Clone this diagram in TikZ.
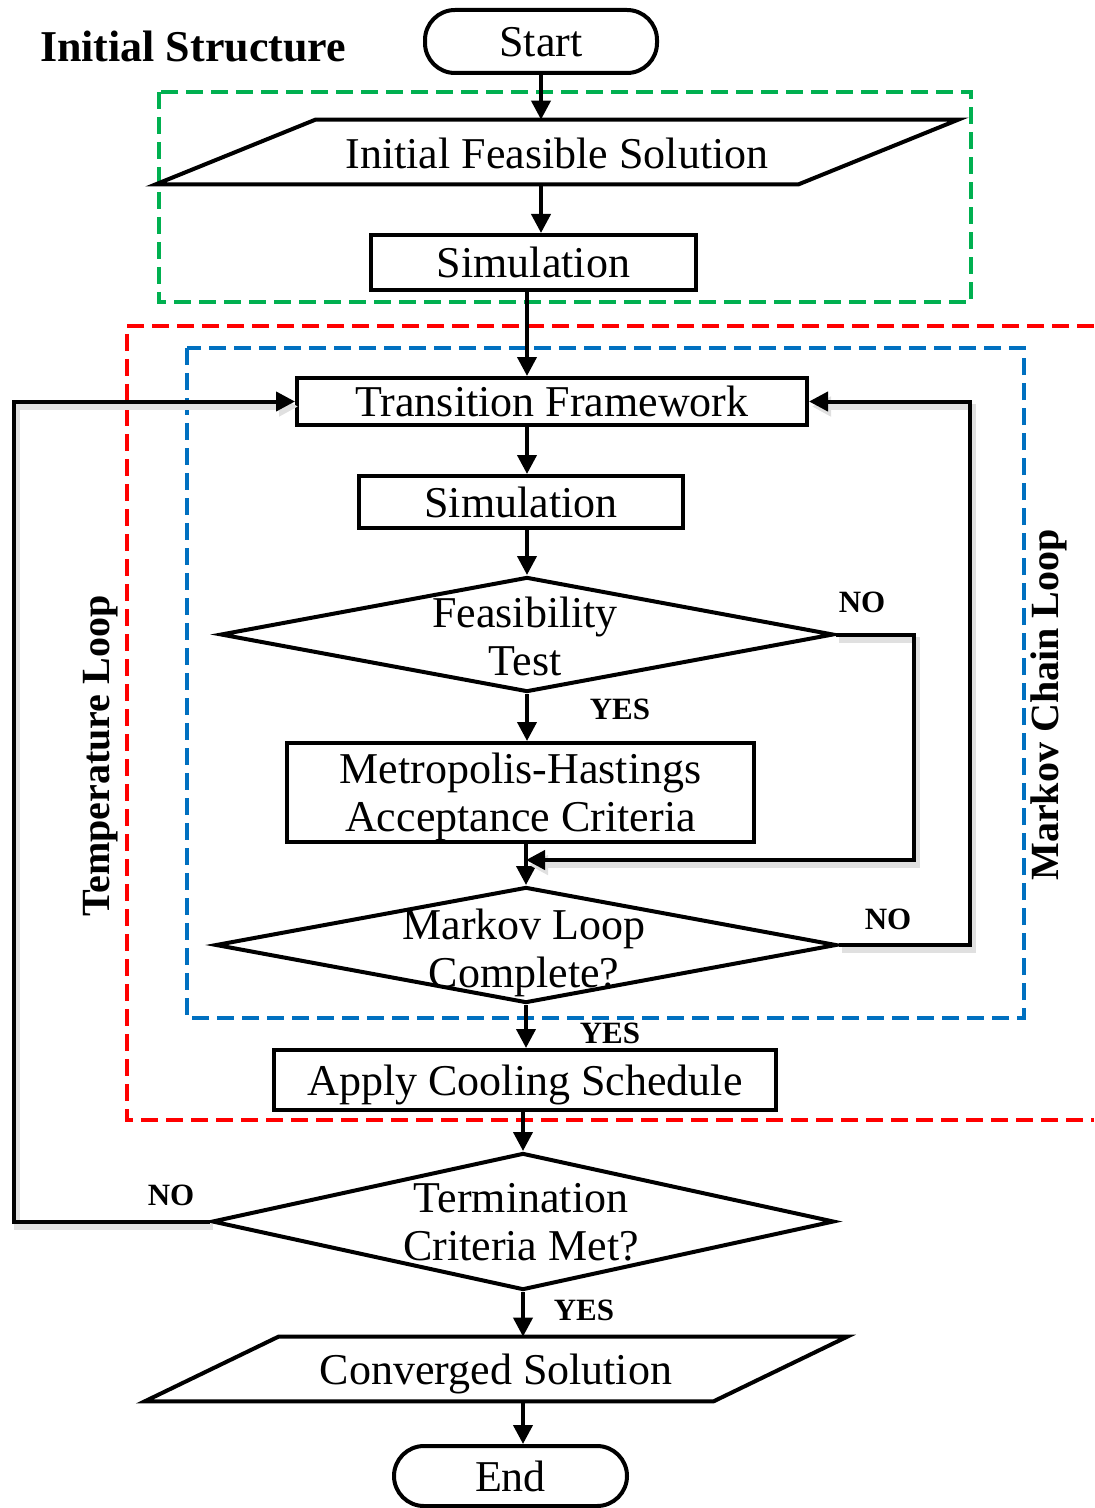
\documentclass[tikz,border=0pt]{standalone}
\usepackage{fontspec}
\setmainfont{Liberation Serif}
\usetikzlibrary{arrows.meta,shapes.geometric}
\definecolor{grpgreen}{HTML}{00B050}
\definecolor{grpred}{HTML}{FF0000}
\definecolor{grpblue}{HTML}{0070C0}
\begin{document}
\begin{tikzpicture}[x=0.5pt,y=-0.5pt,
  txt/.style={font=\fontsize{22}{24}\selectfont, align=center, text depth=0pt},
  box/.style={draw, line width=2pt, rectangle, inner sep=0pt, txt},
  term/.style={box, rounded corners=15pt},
  dia/.style={draw, line width=2pt, diamond, inner sep=0pt},
  io/.style={rectangle, inner sep=0pt, txt},
  flow/.style={draw, line width=2pt, -{Triangle[length=9.5pt,width=9.5pt]}},
  loopline/.style={flow, preaction={draw=black!12, line width=3pt, transform canvas={xshift=1.5pt,yshift=-2.5pt}}},
  lab/.style={font=\fontsize{15.5}{17}\selectfont\bfseries},
  side/.style={font=\fontsize{20}{22}\selectfont\bfseries, rotate=90},
  grp/.style={line width=2pt, dash pattern=on 8.5pt off 4pt},
]
\useasboundingbox (0,0) rectangle (1094,1508);

% grouping frames
\draw[grp, grpgreen] (159,92) rectangle (971,302);
\draw[grp, grpred] (1094,326) -- (127,326) -- (127,1120) -- (1094,1120);
\draw[grp, grpblue] (187,348) rectangle (1024,1018);

% titles
\node[font=\fontsize{22}{24}\selectfont\bfseries] (title) at (193,47) {Initial Structure};
\node[side] (tloop) at (101,756) {Temperature Loop};
\node[side] (mloop) at (1049,705) {Markov Chain Loop};

% flow nodes
\node[term, minimum width=116pt, minimum height=31.5pt] (start) at (541,41.5) {Start};
\node[io, minimum width=321pt, minimum height=32pt] (ifs) at (557,152) {\raisebox{-1.5pt}{Initial Feasible Solution}};
\draw[line width=2pt] ([xshift=40pt]ifs.north west) -- ([xshift=40pt]ifs.north east)
  -- ([xshift=-40pt]ifs.south east) -- ([xshift=-40pt]ifs.south west) -- cycle;
\node[box, minimum width=162.5pt, minimum height=27.5pt] (sim1) at (533.5,262.5) {Simulation};
\node[box, minimum width=255pt, minimum height=23.5pt] (tf) at (552,401.5) {Transition Framework};
\node[box, minimum width=162pt, minimum height=26pt] (sim2) at (521,502) {Simulation};
\node[dia, minimum width=306.5pt, minimum height=57.5pt] (ft) at (527,634.5) {};
\node[txt] (ftt) at (525,636) {Feasibility\\Test};
\node[box, minimum width=233.5pt, minimum height=49.5pt] (mh) at (520.5,792.5) {Metropolis-Hastings\\Acceptance Criteria};
\node[dia, minimum width=310.5pt, minimum height=58pt] (mlc) at (526,945) {};
\node[txt] (mlct) at (524,948) {Markov Loop\\Complete?};
\node[box, minimum width=251pt, minimum height=30pt] (acs) at (525,1080) {Apply Cooling Schedule};
\node[dia, minimum width=311pt, minimum height=68.5pt] (tcm) at (523,1221.5) {};
\node[txt] (tcmt) at (521,1222) {Termination\\Criteria Met?};
\node[io, minimum width=284pt, minimum height=32pt] (cs) at (496,1369) {Converged Solution};
\draw[line width=2pt] ([xshift=33.5pt]cs.north west) -- ([xshift=33.5pt]cs.north east)
  -- ([xshift=-33.5pt]cs.south east) -- ([xshift=-33.5pt]cs.south west) -- cycle;
\node[term, minimum width=116.5pt, minimum height=30pt] (end) at (510.5,1476) {End};

% main flow
\draw[flow] (start.south) -- (start.south |- ifs.north);
\draw[flow] (ifs.south -| start) -- (sim1.north -| start);
\draw[flow] (sim1.south -| ft) -- (tf.north -| ft);
\draw[flow] (tf.south -| ft) -- (sim2.north -| ft);
\draw[flow] (sim2.south -| ft) -- (ft.north);
\draw[flow] (ft.south) -- (ft.south |- mh.north);
\draw[flow] (mh.south -| mlc) -- (mlc.north);
\draw[flow] (mlc.south) -- (mlc.south |- acs.north);
\draw[flow] (acs.south -| tcm) -- (tcm.north);
\draw[flow] (tcm.south) -- (tcm.south |- cs.north);
\draw[flow] (cs.south -| tcm) -- (end.north -| tcm);

% loop-back connectors
\coordinate (fm) at (526,860);
\draw[loopline] (ft.east) -- ++(78,0) |- (fm);
\draw[loopline] (mlc.east) -- (970,945) |- (tf.east);
\draw[loopline] (tcm.west) -- (14,1221.5) |- (tf.west);

% branch labels
\node[lab] (no1) at (862,602) {NO};
\node[lab] (yes1) at (620,709) {YES};
\node[lab] (no2) at (888,919) {NO};
\node[lab] (yes2) at (610,1033) {YES};
\node[lab] (no3) at (171,1195) {NO};
\node[lab] (yes3) at (584,1310) {YES};
\end{tikzpicture}
\end{document}
